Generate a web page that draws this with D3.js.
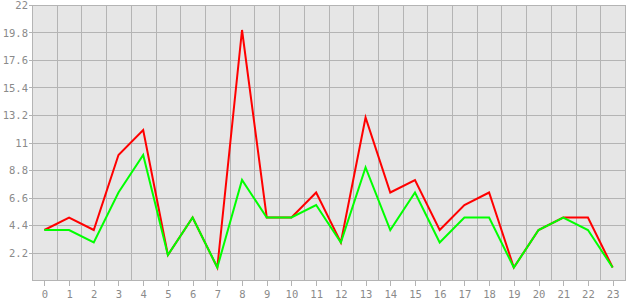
<!DOCTYPE html>
<meta charset="utf-8">
<style>
  body { margin: 0; background: #fff; }
  text { font-family: "DejaVu Sans Mono", monospace; font-size: 10.5px; fill: #8a8a8a; }
</style>
<svg width="630" height="300"></svg>
<script src="https://cdn.jsdelivr.net/npm/d3@7"></script>
<script>

var categories = d3.range(0, 24);
var redValues = [4, 5, 4, 10, 12, 2, 5, 1, 20, 5, 5, 7, 3, 13, 7, 8, 4, 6, 7, 1, 4, 5, 5, 1];
var greenValues = [4, 4, 3, 7, 10, 2, 5, 1, 8, 5, 5, 6, 3, 9, 4, 7, 3, 5, 5, 1, 4, 5, 4, 1];
var yTicks = [2.2, 4.4, 6.6, 8.8, 11, 13.2, 15.4, 17.6, 19.8, 22];

var svg = d3.select("svg"),
    plotLeft = 32, plotRight = 625, plotTop = 5, plotBottom = 280;

var x = d3.scaleBand().domain(categories).range([plotLeft, plotRight]),
    y = d3.scaleLinear().domain([0, 22]).range([plotBottom, plotTop]);

function crisp(v) { return Math.round(v) + 0.5; }
function cx(d) { return x(d) + x.bandwidth() / 2; }

svg.append("rect")
    .attr("x", plotLeft).attr("y", plotTop)
    .attr("width", plotRight - plotLeft).attr("height", plotBottom - plotTop)
    .attr("fill", "#e6e6e6");

var grid = svg.append("g")
    .attr("stroke", "#b4b4b4")
    .attr("stroke-width", 1);

// horizontal grid + y ticks
grid.selectAll(".hg")
  .data(yTicks)
  .enter().append("line")
    .attr("x1", plotLeft - 3).attr("x2", plotRight)
    .attr("y1", function(d) { return crisp(y(d)); })
    .attr("y2", function(d) { return crisp(y(d)); });

// vertical grid at band edges
grid.selectAll(".vg")
  .data(categories.slice(1).concat(["end"]))
  .enter().append("line")
    .attr("x1", function(d) { return crisp(d === "end" ? plotRight : x(d)); })
    .attr("x2", function(d) { return crisp(d === "end" ? plotRight : x(d)); })
    .attr("y1", plotTop).attr("y2", plotBottom);

// axis lines
grid.append("line")
    .attr("x1", crisp(plotLeft)).attr("x2", crisp(plotLeft))
    .attr("y1", plotTop).attr("y2", plotBottom + 1);
grid.append("line")
    .attr("x1", plotLeft).attr("x2", plotRight + 1)
    .attr("y1", crisp(plotBottom)).attr("y2", crisp(plotBottom));

// x ticks
grid.selectAll(".xt")
  .data(categories)
  .enter().append("line")
    .attr("x1", function(d) { return crisp(cx(d)); })
    .attr("x2", function(d) { return crisp(cx(d)); })
    .attr("y1", plotBottom).attr("y2", plotBottom + 6);

svg.selectAll(".xl")
  .data(categories)
  .enter().append("text")
    .attr("x", function(d) { return cx(d) + 0.5; })
    .attr("y", 298)
    .attr("text-anchor", "middle")
    .text(function(d) { return d; });

svg.selectAll(".yl")
  .data(yTicks)
  .enter().append("text")
    .attr("x", 28)
    .attr("y", function(d) { return y(d) + 4; })
    .attr("text-anchor", "end")
    .text(function(d) { return d; });

var line = d3.line()
    .x(function(d, i) { return cx(categories[i]); })
    .y(function(d) { return y(d); });

[[redValues, "#ff0000"], [greenValues, "#00ff00"]].forEach(function(s) {
  svg.append("path")
      .datum(s[0])
      .attr("fill", "none")
      .attr("stroke", s[1])
      .attr("stroke-width", 2)
      .attr("d", line);
});

</script>
